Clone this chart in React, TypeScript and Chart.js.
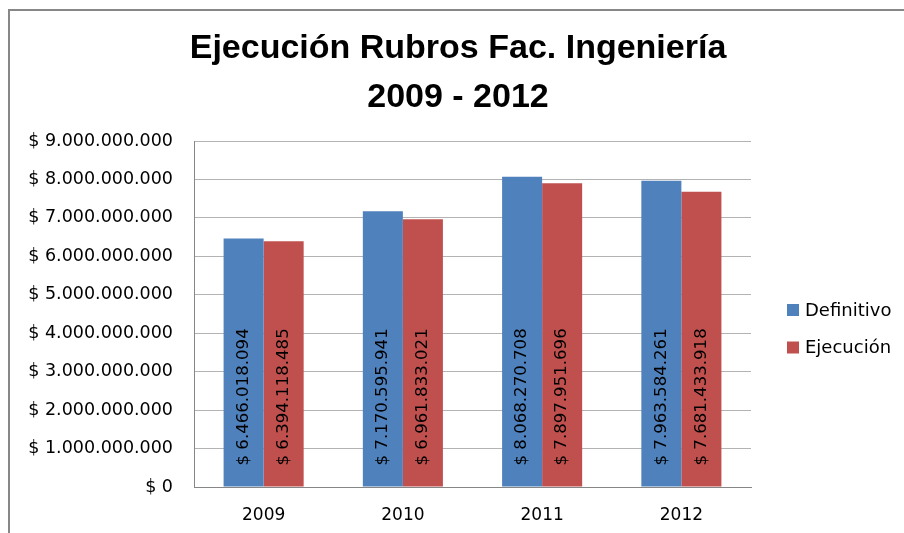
import React, { useEffect, useRef } from 'react';
import { Chart, registerables } from 'chart.js';

Chart.register(...registerables);

const categories = ['2009', '2010', '2011', '2012'];
const definitivo = [6466018094, 7170595941, 8068270708, 7963584261];
const ejecucion = [6394118485, 6961833021, 7897951696, 7681433918];
const seriesNames = ['Definitivo', 'Ejecución'];
const seriesColors = ['#4F81BD', '#C0504D'];
const titleLines = ['Ejecución Rubros Fac. Ingeniería', '2009 - 2012'];
const yMin = 0;
const yMax = 9000000000;
const yStep = 1000000000;

const FONT = '"DejaVu Sans", "Liberation Sans", sans-serif';

function money(v: number): string {
  const s = Math.round(v).toString().replace(/\B(?=(\d{3})+(?!\d))/g, '.');
  return '$ ' + s;
}

const framePlugin = {
  id: 'frame',
  beforeDraw(chart: any) {
    const ctx = chart.ctx;
    ctx.save();
    ctx.fillStyle = '#ffffff';
    ctx.fillRect(0, 0, chart.width, chart.height);
    ctx.strokeStyle = '#878787';
    ctx.lineWidth = 2;
    ctx.beginPath();
    ctx.moveTo(9, chart.height + 5);
    ctx.lineTo(9, 10);
    ctx.lineTo(chart.width + 5, 10);
    ctx.stroke();
    ctx.restore();
  },
  afterDraw(chart: any) {
    const ctx = chart.ctx;
    ctx.save();
    // title
    ctx.fillStyle = '#000000';
    ctx.font = 'bold 34px "Liberation Sans", Arial, sans-serif';
    ctx.textAlign = 'center';
    ctx.textBaseline = 'alphabetic';
    const cx = 458;
    ctx.fillText(titleLines[0], cx, 58);
    ctx.fillText(titleLines[1], cx, 107);
    // legend
    const datasets = chart.data.datasets;
    const lx = 787;
    const ly0 = 310;
    const gap = 37.5;
    ctx.font = '18px ' + FONT;
    ctx.textAlign = 'left';
    ctx.textBaseline = 'middle';
    datasets.forEach((ds: any, i: number) => {
      const cy = ly0 + i * gap;
      ctx.fillStyle = ds.backgroundColor;
      ctx.fillRect(lx, cy - 6, 12, 12);
      ctx.fillStyle = '#000000';
      ctx.fillText(ds.label, lx + 18, cy + 1);
    });
    ctx.restore();
  },
  afterDatasetsDraw(chart: any) {
    const ctx = chart.ctx;
    ctx.save();
    ctx.fillStyle = '#000000';
    ctx.font = '16.6px ' + FONT;
    ctx.textAlign = 'left';
    ctx.textBaseline = 'middle';
    chart.data.datasets.forEach((ds: any, di: number) => {
      const meta = chart.getDatasetMeta(di);
      meta.data.forEach((bar: any, i: number) => {
        const v = ds.data[i];
        ctx.save();
        ctx.translate(bar.x, bar.base - 21);
        ctx.rotate(-Math.PI / 2);
        ctx.fillText(money(v), 0, 0);
        ctx.restore();
      });
    });
    ctx.restore();
  },
};

export default function App() {
  const ref = useRef<HTMLCanvasElement | null>(null);
  useEffect(() => {
    if (!ref.current) return;
    const chart = new Chart(ref.current, {
      type: 'bar',
      data: {
        labels: categories,
        datasets: [
          {
            label: seriesNames[0],
            data: definitivo,
            backgroundColor: seriesColors[0],
            borderWidth: 0,
            categoryPercentage: 0.575,
            barPercentage: 1,
          },
          {
            label: seriesNames[1],
            data: ejecucion,
            backgroundColor: seriesColors[1],
            borderWidth: 0,
            categoryPercentage: 0.575,
            barPercentage: 1,
          },
        ],
      },
      options: {
        responsive: false,
        animation: false,
        layout: { padding: { left: 0, right: 153, top: 141, bottom: 0 } },
        plugins: {
          legend: { display: false },
          title: { display: false },
          tooltip: { enabled: false },
        },
        scales: {
          x: {
            grid: { display: false, drawTicks: false },
            border: { display: true, color: '#868686', width: 1 },
            ticks: {
              padding: 18,
              color: '#000000',
              font: { family: FONT, size: 17 },
            },
            afterFit(scale: any) {
              scale.height = 46;
            },
          },
          y: {
            min: yMin,
            max: yMax,
            grid: { color: '#b3b3b3', lineWidth: 1, drawTicks: false },
            border: { display: true, color: '#868686', width: 1 },
            ticks: {
              stepSize: yStep,
              padding: 21,
              color: '#000000',
              font: { family: FONT, size: 17.5 },
              callback: (v: any) => money(Number(v)),
            },
            afterFit(scale: any) {
              scale.width = 194;
            },
          },
        },
      },
      plugins: [framePlugin],
    });
    return () => chart.destroy();
  }, []);
  return (
    <canvas
      ref={ref}
      width={904}
      height={533}
      style={{ position: 'absolute', left: 0, top: 0, width: 904, height: 533 }}
    />
  );
}
